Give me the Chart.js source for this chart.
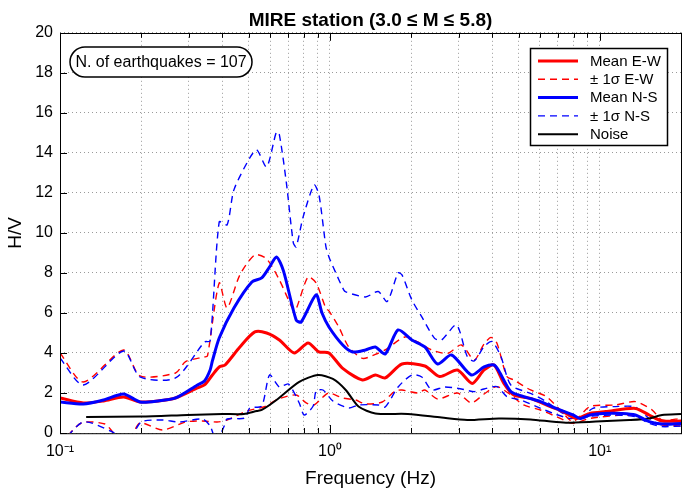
<!DOCTYPE html>
<html lang="en">
<head>
<meta charset="UTF-8">
<title>MIRE station H/V</title>
<script src="https://cdn.jsdelivr.net/npm/chart.js"></script>
<style>
  html, body { margin: 0; padding: 0; background: white; overflow: hidden; }
  #wrap { width: 690px; height: 492px; }
</style>
</head>
<body>
<div id="wrap"><canvas id="hv" width="690" height="492"></canvas></div>
<script>
// values (frequency in Hz, H/V ratio)
const ewMeanHz = [0.1,0.122,0.145,0.172,0.198,0.231,0.268,0.323,0.343,0.367,0.389,0.409,0.464,0.527,0.583,0.65,0.738,0.83,0.911,0.992,1.116,1.321,1.474,1.603,1.85,2.248,2.551,2.969,3.369,3.727,4.056,4.413,4.802,5.541,6.56,7.318,8.169,9.191,10.51,13.55,15.25,17.01,20];
const ewMean   = [1.75,1.5,1.6,1.8,1.55,1.6,1.75,2.25,2.4,2.9,3.3,3.4,4.3,5.05,5.0,4.65,4.0,4.5,4.05,4.0,3.23,2.65,2.9,2.75,3.45,3.35,2.82,3.15,2.48,3.15,3.4,2.48,1.9,1.73,1.32,1.07,0.73,0.98,1.07,1.23,0.9,0.6,0.6];

const nsMeanHz = [0.1,0.122,0.145,0.172,0.198,0.231,0.268,0.323,0.343,0.36,0.367,0.389,0.441,0.514,0.559,0.598,0.634,0.673,0.75,0.783,0.889,0.935,0.992,1.116,1.214,1.355,1.474,1.603,1.79,2.013,2.248,2.507,2.823,3.341,3.727,4.056,4.229,4.682,5.224,6.03,6.901,7.963,8.447,9.191,10.25,12.14,13.55,15.25,17.01,20];
const nsMean   = [1.55,1.45,1.65,1.95,1.55,1.6,1.75,2.4,2.6,3.15,3.6,4.75,6.25,7.55,7.75,8.3,8.8,8.1,5.65,5.55,6.9,6.0,5.3,4.4,4.05,4.15,4.3,3.95,5.15,4.65,4.3,3.45,3.9,2.9,3.3,3.4,3.1,2.07,1.82,1.57,1.23,0.9,0.73,0.9,0.98,0.98,0.9,0.57,0.45,0.48];

const ewUpHz = [0.1,0.122,0.172,0.198,0.268,0.292,0.343,0.352,0.389,0.416,0.464,0.527,0.583,0.65,0.732,0.75,0.83,0.889,0.967,0.992,1.079,1.174,1.321,1.474,1.603,1.897,2.118,2.383,2.729,3.071,3.426,3.727,3.954,4.16,4.527,4.802,5.541,6.34,7.134,7.963,9.191,11.44,13.55,15.64,17.01,20];
const ewUp   = [4.0,2.55,4.15,2.85,3.0,3.57,3.8,3.85,7.5,6.25,7.9,8.9,8.7,7.65,6.15,6.2,7.8,7.5,6.23,6.1,5.3,4.3,3.73,3.93,4.15,4.8,4.55,4.15,3.98,4.4,3.65,4.45,4.78,4.48,2.82,2.65,2.15,1.82,1.15,0.57,1.32,1.4,1.57,1.15,0.65,0.73];

const ewLowHz = [0.1,0.12,0.147,0.158,0.172,0.183,0.198,0.24,0.292,0.337,0.382,0.416,0.492,0.568,0.645,0.75,0.817,0.874,0.943,0.992,1.116,1.245,1.355,1.563,1.745,1.85,2.118,2.248,2.507,2.969,3.341,3.727,4.16,4.682,5.224,6.03,6.901,7.963,9.191,12.88,14.74,17.01,20];
const ewLow   = [-0.6,0.5,0.45,0.0,-0.3,-0.2,0.5,0.15,0.55,0.6,0.55,0.65,1.1,1.3,1.7,1.9,1.5,1.4,1.8,2.0,1.75,1.65,1.45,1.55,2.1,2.15,2.0,2.15,1.7,2.0,1.5,1.95,2.32,1.9,1.4,1.15,0.82,0.48,0.73,0.9,0.65,0.4,0.35];

const nsUpHz = [0.1,0.122,0.172,0.198,0.268,0.343,0.36,0.389,0.416,0.441,0.505,0.536,0.583,0.634,0.65,0.69,0.732,0.75,0.796,0.874,0.911,0.967,0.992,1.052,1.125,1.145,1.355,1.511,1.63,1.79,1.85,2.013,2.191,2.444,2.594,2.945,3.229,3.426,3.727,3.988,4.303,4.682,5.541,6.34,7.318,8.447,9.428,11.44,13.55,15.25,17.01,20];
const nsUp   = [3.75,2.4,4.1,2.8,2.75,4.55,4.6,10.55,10.4,12.15,13.75,14.15,13.3,15.05,14.9,12.5,9.5,9.3,10.8,12.4,11.9,9.3,8.8,8.0,7.15,7.05,6.8,7.07,6.57,8.0,7.9,6.65,5.8,4.73,4.65,5.4,3.82,3.6,4.32,4.57,3.82,2.4,1.98,1.57,0.98,0.73,1.23,1.32,1.3,0.73,0.4,0.48];

const nsLowHz = [0.1,0.122,0.154,0.172,0.182,0.2,0.24,0.277,0.337,0.36,0.38,0.406,0.416,0.484,0.505,0.559,0.598,0.65,0.702,0.77,0.803,0.867,0.889,0.943,1.026,1.174,1.277,1.511,1.603,1.79,2.013,2.191,2.383,2.661,3.071,3.426,3.727,4.16,4.527,5.091,5.833,6.727,7.762,8.886,11.16,13.55,15.25,17.01,20];
const nsLow   = [-0.6,0.55,0.1,-0.3,-0.3,0.55,0.65,0.55,0.7,0.35,-0.4,0.35,0.7,0.75,1.25,1.35,2.9,2.3,2.45,1.5,0.9,1.35,2.1,2.15,1.6,1.25,1.4,1.4,1.3,2.3,2.9,2.8,2.15,2.3,2.2,2.07,2.2,2.32,1.82,1.65,1.32,0.98,0.73,0.82,0.9,0.82,0.48,0.32,0.35];

const noiseHz = [0.125,0.2,0.297,0.4,0.48,0.536,0.559,0.634,0.77,0.904,1.026,1.145,1.277,1.474,1.946,2.594,3.229,4.229,5.541,7.318,9.671,12.88,15.25,17.01,20];
const noise   = [0.8,0.82,0.9,0.95,0.95,1.1,1.15,1.65,2.55,2.9,2.7,2.15,1.32,0.98,0.95,0.77,0.65,0.73,0.68,0.52,0.57,0.65,0.73,0.9,0.95];

const xTickHz = [0.1,0.2,0.3,0.4,0.5,0.6,0.7,0.8,0.9,1,2,3,4,5,6,7,8,9,10,20];
const xTickText = { 0.1: '10⁻¹', 1: '10⁰', 10: '10¹' };
const yTicks = [0,2,4,6,8,10,12,14,16,18,20];
const legendItems = [
  { text: 'Mean E-W', color: 'red', width: 3, dash: [] },
  { text: '± 1σ E-W', color: 'red', width: 1.4, dash: [7, 5] },
  { text: 'Mean N-S', color: 'blue', width: 3, dash: [] },
  { text: '± 1σ N-S', color: 'blue', width: 1.4, dash: [7, 5] },
  { text: 'Noise', color: 'black', width: 2, dash: [] }
];
const quakeNote = 'N. of earthquakes = 107';

const FONT = '"Liberation Sans", Arial, Helvetica, sans-serif';
Chart.defaults.font.family = FONT;
Chart.defaults.color = '#000';

function pts(hz, vals) { return hz.map((f, i) => ({ x: f, y: vals[i] })); }
function line(data, color, width, dash, order) {
  return { data, borderColor: color, borderWidth: width, borderDash: dash, order,
           pointRadius: 0, tension: 0.25, fill: false };
}

const extras = {
  id: 'extras',
  afterDatasetsDraw(chart) {
    const { ctx, chartArea: a, scales: { x, y } } = chart;
    ctx.save();
    ctx.strokeStyle = '#000';
    ctx.lineWidth = 1;
    ctx.setLineDash([]);
    ctx.beginPath();
    xTickHz.forEach(v => {
      const px = Math.round(x.getPixelForValue(v)) + 0.5;
      const len = xTickText[v] ? 8 : 5;
      ctx.moveTo(px, a.top); ctx.lineTo(px, a.top + len);
      ctx.moveTo(px, a.bottom); ctx.lineTo(px, a.bottom - len);
    });
    yTicks.forEach(v => {
      const py = Math.round(y.getPixelForValue(v)) + 0.5;
      ctx.moveTo(a.left, py); ctx.lineTo(a.left + 7, py);
    });
    ctx.stroke();
    ctx.strokeRect(Math.round(a.left) + 0.5, Math.round(a.top) + 0.5, a.right - a.left, a.bottom - a.top);

    // earthquake count box
    ctx.lineWidth = 1.5;
    ctx.beginPath();
    ctx.roundRect(70, 47, 182, 30, 15);
    ctx.fillStyle = '#fff';
    ctx.fill();
    ctx.stroke();
    ctx.fillStyle = '#000';
    ctx.font = '16px ' + FONT;
    ctx.textAlign = 'center';
    ctx.textBaseline = 'middle';
    ctx.fillText(quakeNote, 161, 62.5);

    // legend
    ctx.beginPath();
    ctx.rect(530.5, 48.5, 137, 97);
    ctx.fillStyle = '#fff';
    ctx.fill();
    ctx.strokeStyle = '#000';
    ctx.lineWidth = 1.5;
    ctx.stroke();
    ctx.font = '15px ' + FONT;
    ctx.textAlign = 'left';
    legendItems.forEach((it, i) => {
      const ly = 61 + i * 18.3;
      ctx.beginPath();
      ctx.strokeStyle = it.color;
      ctx.lineWidth = it.width;
      ctx.setLineDash(it.dash);
      ctx.moveTo(538, ly); ctx.lineTo(578, ly);
      ctx.stroke();
      ctx.fillStyle = '#000';
      ctx.fillText(it.text, 590, ly + 0.5);
    });
    ctx.restore();
  }
};

new Chart(document.getElementById('hv'), {
  type: 'line',
  data: {
    datasets: [
      line(pts(nsMeanHz, nsMean), 'blue', 3, [], 0),
      line(pts(noiseHz, noise), 'black', 2, [], 1),
      line(pts(ewMeanHz, ewMean), 'red', 3, [], 2),
      line(pts(nsUpHz, nsUp), 'blue', 1.4, [7, 5], 3),
      line(pts(nsLowHz, nsLow), 'blue', 1.4, [7, 5], 4),
      line(pts(ewUpHz, ewUp), 'red', 1.4, [7, 5], 5),
      line(pts(ewLowHz, ewLow), 'red', 1.4, [7, 5], 6)
    ]
  },
  options: {
    responsive: false,
    devicePixelRatio: 1,
    animation: false,
    layout: { padding: 0 },
    plugins: {
      legend: { display: false },
      tooltip: { enabled: false },
      title: {
        display: true, fullSize: false,
        text: 'MIRE station (3.0 ≤ M ≤ 5.8)',
        font: { size: 19, weight: 'bold' },
        padding: { top: 9, bottom: 1 }
      }
    },
    scales: {
      x: {
        type: 'logarithmic', min: 0.1, max: 20,
        afterBuildTicks: s => { s.ticks = xTickHz.map(v => ({ value: v })); },
        afterFit: s => { s.height = 59; },
        ticks: { autoSkip: false, maxRotation: 0, padding: 9, font: { size: 16 },
                 callback: v => xTickText[v] || '' },
        grid: { color: '#9a9a9a', drawTicks: false },
        border: { display: false, dash: [1, 3] },
        title: { display: true, text: 'Frequency (Hz)', font: { size: 19 }, padding: { top: 0, bottom: 2 } }
      },
      y: {
        min: 0, max: 20,
        afterBuildTicks: s => { s.ticks = yTicks.map(v => ({ value: v })); },
        afterFit: s => { s.width = 60; },
        ticks: { padding: 7, font: { size: 16 } },
        grid: { color: '#9a9a9a', drawTicks: false },
        border: { display: false, dash: [1, 3] },
        title: { display: true, text: 'H/V', font: { size: 19 }, padding: { top: 4, bottom: 0 } }
      }
    }
  },
  plugins: [extras]
});
</script>
</body>
</html>
